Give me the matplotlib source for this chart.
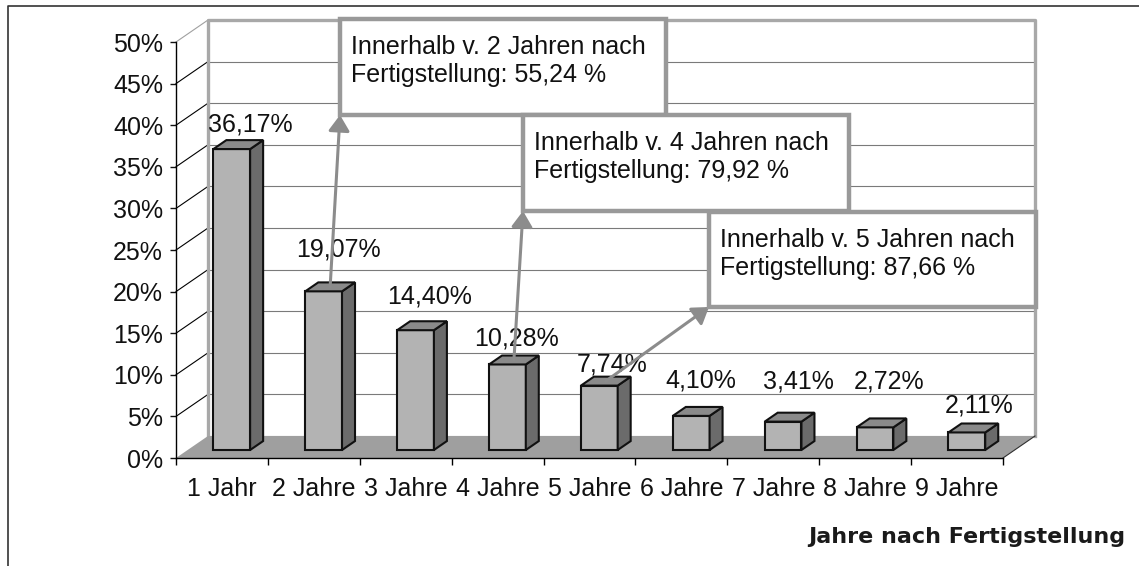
import matplotlib
matplotlib.use('Agg')
import matplotlib.pyplot as plt
import numpy as np
from matplotlib.patches import Polygon, Rectangle
from matplotlib.transforms import Affine2D

plt.rcParams['font.family'] = ['Liberation Sans', 'DejaVu Sans']

# Daten
kategorien = ['1 Jahr', '2 Jahre', '3 Jahre', '4 Jahre', '5 Jahre',
              '6 Jahre', '7 Jahre', '8 Jahre', '9 Jahre']
anteile = [36.17, 19.07, 14.40, 10.28, 7.74, 4.10, 3.41, 2.72, 2.11]
y_ticks = list(range(0, 51, 5))
# kumulierte Anteile fuer die Hinweiskaesten (nach 2, 4, 5 Jahren)
kaesten_jahre = [2, 4, 5]

# Lage der Beschriftungen (Pixel, relativ zur Vorderkante oben)
lbl_dx = [19, 14.5, 14.5, 9, 12.5, 10, 15, 14, 12]
lbl_dy = [18, 35, 27, 18.5, 14, 28, 33.5, 39, 19.5]
# Kaesten in Pixeln (links, oben, rechts, unten)
kasten_px = [(340, 19, 666, 115), (523, 115, 849, 211), (709, 212, 1036, 307)]

W, H = 1139, 566
fig = plt.figure(figsize=(W / 100, H / 100), dpi=100)
pix = Affine2D().scale(1 / W, -1 / H).translate(0, 1) + fig.transFigure

ax = fig.add_axes([176 / W, 1 - 458 / H, (1003 - 176) / W, (458 - 42) / H])
ax.set_xlim(0, 9)
ax.set_ylim(0, 50)
ax.patch.set_visible(False)
ax.spines['top'].set_visible(False)
ax.spines['right'].set_visible(False)
ax.spines['left'].set_linewidth(1)
ax.spines['bottom'].set_linewidth(1)

# Tiefe der 3D-Ansicht in Dateneinheiten
DX = 32 / ((1003 - 176) / 9)
DY = 22 / (416 / 50)
n = len(anteile)

# Rueckwand mit Gitterlinien
for y in y_ticks:
    ax.plot([DX, n + DX], [y + DY, y + DY], color='#7a7a7a', lw=0.8,
            clip_on=False, zorder=1)
ax.plot([DX, DX, n + DX, n + DX], [DY, 50 + DY, 50 + DY, DY],
        color='#a8a8a8', lw=2.4, clip_on=False, zorder=1.2)
# Seitenwand
for y in y_ticks[1:]:
    ax.plot([0, DX], [y, y + DY], color='black' if y < 50 else '#a0a0a0',
            lw=0.8, clip_on=False, zorder=1.1)
# Boden
ax.add_patch(Polygon([(0, 0), (n, 0), (n + DX, DY), (DX, DY)], closed=True,
                     facecolor='#9f9f9f', edgecolor='none', clip_on=False,
                     zorder=1.3))
ax.plot([n, n + DX], [0, DY], color='#303030', lw=0.8, clip_on=False, zorder=1.4)

# Saeulen
F0, F1 = 0.364, 0.77
bw = 0.4
ddx, ddy = (F1 - F0) * DX, (F1 - F0) * DY
tops = []
for i, v in enumerate(anteile):
    x0 = i + 0.28 + F0 * DX
    y0 = F0 * DY
    kw = dict(closed=True, edgecolor='#111111', lw=1.5, clip_on=False,
              joinstyle='miter', zorder=3)
    ax.add_patch(Polygon([(x0, y0), (x0 + bw, y0), (x0 + bw, y0 + v), (x0, y0 + v)],
                         facecolor='#b3b3b3', **kw))
    ax.add_patch(Polygon([(x0 + bw, y0), (x0 + bw + ddx, y0 + ddy),
                          (x0 + bw + ddx, y0 + v + ddy), (x0 + bw, y0 + v)],
                         facecolor='#6b6b6b', **kw))
    ax.add_patch(Polygon([(x0, y0 + v), (x0 + bw, y0 + v),
                          (x0 + bw + ddx, y0 + v + ddy), (x0 + ddx, y0 + v + ddy)],
                         facecolor='#8a8a8a', **kw))
    tops.append((x0 + bw / 2 + ddx / 2, y0 + v + ddy / 2))
    ax.annotate(f'{v:.2f}'.replace('.', ',') + '%', xy=(x0 + bw / 2, y0 + v),
                xytext=(lbl_dx[i], lbl_dy[i]), textcoords='offset pixels',
                ha='center', va='baseline', fontsize=18, color='#111111',
                zorder=4, annotation_clip=False)

# Achsen
ax.set_yticks(y_ticks)
ax.set_yticklabels([f'{y}%' for y in y_ticks])
ax.tick_params(axis='y', direction='out', length=4.3, width=1, pad=5,
               labelsize=18, colors='#111111')
ax.set_xticks(np.arange(n + 1))
ax.set_xticks(np.arange(n) + 0.5, minor=True)
ax.set_xticklabels([], minor=False)
ax.set_xticklabels(kategorien, minor=True)
ax.tick_params(axis='x', which='major', direction='out', length=5, width=1)
ax.tick_params(axis='x', which='minor', length=0, pad=13.5, labelsize=18,
               colors='#111111')

# Hinweiskaesten mit Pfeilen
kum = np.cumsum(anteile)
for (l, t, r, b), jahre in zip(kasten_px, kaesten_jahre):
    ax.add_patch(Rectangle((l, t), r - l, b - t, transform=pix, facecolor='white',
                           edgecolor='#999999', lw=3.2, clip_on=False, zorder=6))
    ax.text(l + 11, t + 35, f'Innerhalb v. {jahre} Jahren nach', transform=pix,
            fontsize=18, va='baseline', ha='left', color='#111111', zorder=7)
    ax.text(l + 11, t + 63,
            'Fertigstellung: ' + f'{kum[jahre - 1]:.2f}'.replace('.', ',') + ' %',
            transform=pix, fontsize=18, va='baseline', ha='left',
            color='#111111', zorder=7)
    ax.annotate('', xy=(l, b), xycoords=pix, xytext=tops[jahre - 1],
                textcoords='data',
                arrowprops=dict(arrowstyle='-|>,head_length=0.6,head_width=0.4',
                                color='#8c8c8c', lw=2.2, mutation_scale=16,
                                shrinkA=0, shrinkB=0),
                zorder=5, annotation_clip=False)

# Achsentitel
fig.text(1125, 543, 'Jahre nach Fertigstellung', transform=pix, ha='right',
         va='baseline', fontsize=16, fontweight='bold', family='DejaVu Sans',
         color='#1a1a1a')

# Rahmen
fig.add_artist(plt.Line2D([7.5, 7.5, W], [H, 5.5, 5.5], transform=pix,
                          color='#333333', lw=1.2))

fig.savefig('out.png', dpi=100)
